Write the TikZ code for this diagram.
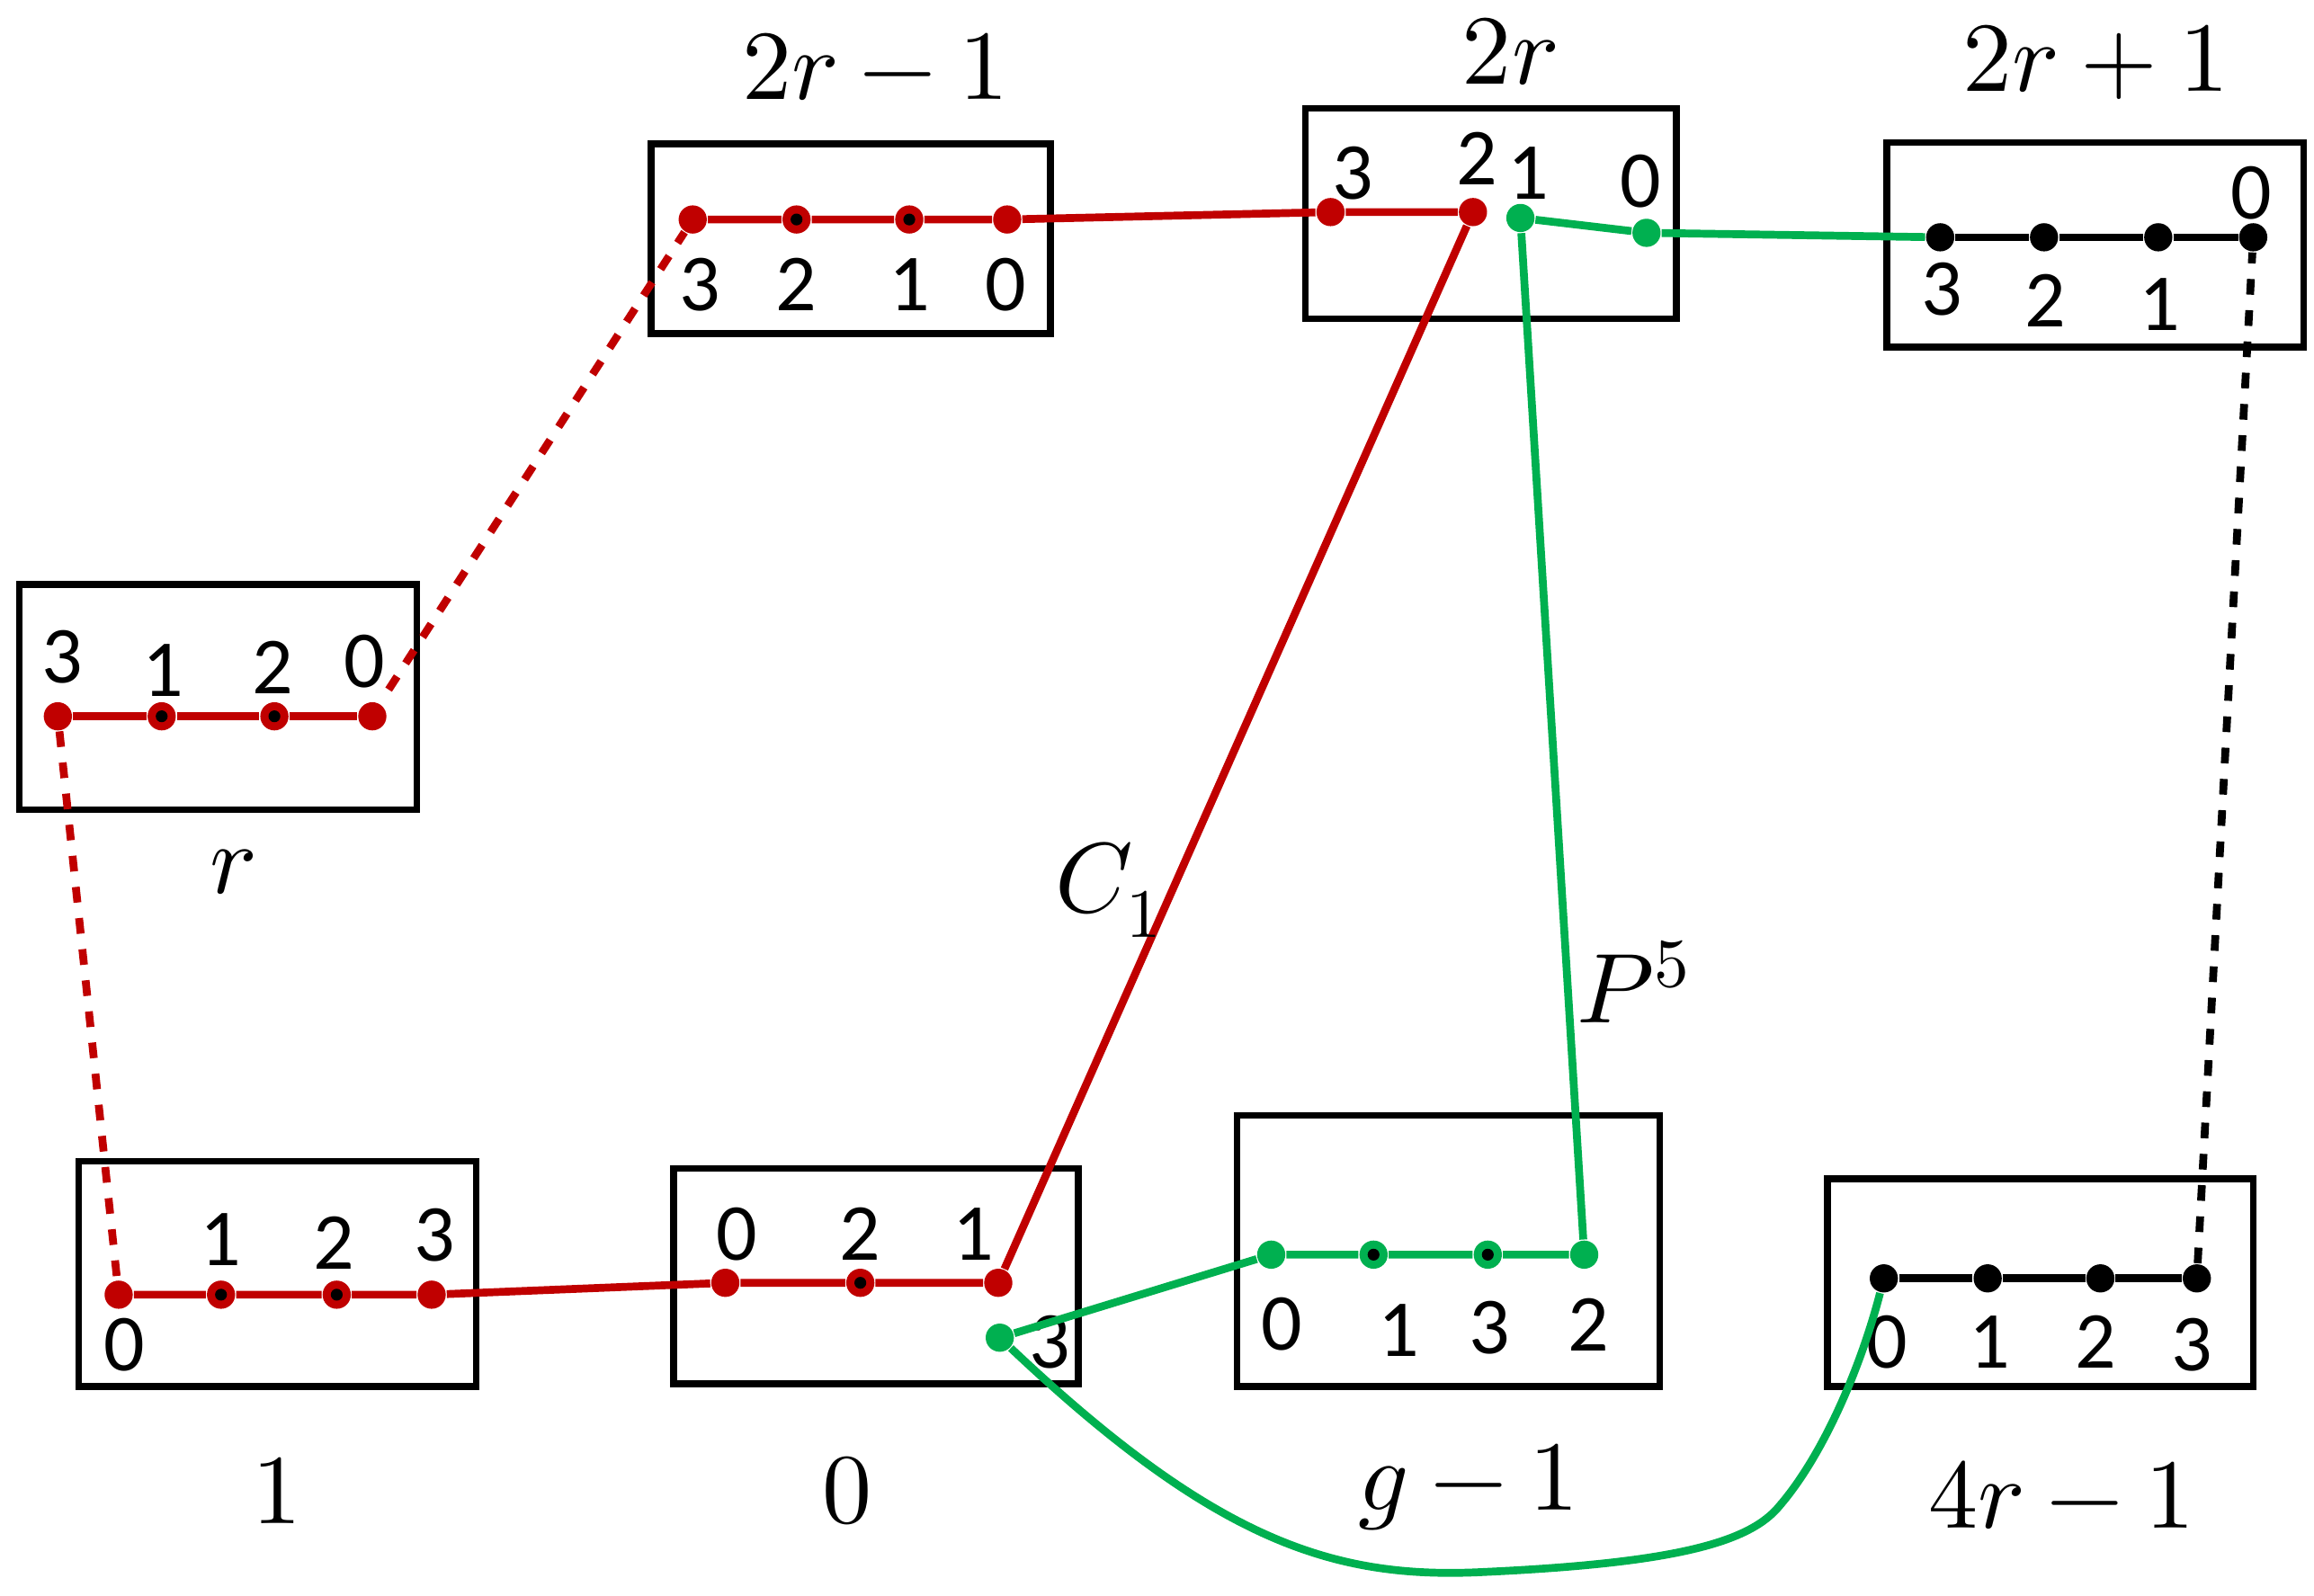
\documentclass[tikz,border=0pt]{standalone}
\usepackage{fontspec}
\setmainfont{Carlito}
\usepackage{unicode-math}
\setmathfont{Latin Modern Math}
\begin{document}
\begin{tikzpicture}[x=0.01cm,y=-0.01cm,
  box/.style={draw,line width=1.3pt},
  dot/.style={circle,inner sep=0pt,minimum size=0.19cm,fill=#1},
  dotc/.style={dot=#1,path picture={\fill[black] (path picture bounding box.center) circle (0.04cm);}},
  lab/.style={font=\fontsize{15.5}{15.5}\selectfont},
  big/.style={font=\fontsize{19}{19}\selectfont},
  rl/.style={line width=1.5pt,draw=myred},
  gl/.style={line width=1.5pt,draw=mygreen},
  bl/.style={line width=1.5pt,draw=black}]
\definecolor{myred}{RGB}{192,0,0}
\definecolor{mygreen}{RGB}{0,176,80}
\useasboundingbox (0,0) rectangle (1560,1076);
% boxes
\draw[box] (439,97) rectangle (708,225);
\draw[box] (880,73) rectangle (1130,215);
\draw[box] (1272,96) rectangle (1553,234);
\draw[box] (13,394) rectangle (281,546);
\draw[box] (53,783) rectangle (321,935);
\draw[box] (454,788) rectangle (727,933);
\draw[box] (834,752) rectangle (1119,935);
\draw[box] (1232,795) rectangle (1519,935);
% box labels
\node[big] (L1) at (590,45) {$2r-1$};
\node[big] (L2) at (1018,35) {$2r$};
\node[big] (L3) at (1413,42) {$2r+1$};
\node[big] (L4) at (157,588) {$r$};
\node[big] (L5) at (187,1005) {$1$};
\node[big] (L6) at (571,1005) {$0$};
\node[big] (L7) at (990,1003) {$g-1$};
\node[big] (L8) at (1390,1008) {$4r-1$};
% dots 2r-1
\node[dot=myred] (a3) at (467,148) {};
\node[dotc=myred] (a2) at (537,148) {};
\node[dotc=myred] (a1) at (613,148) {};
\node[dot=myred] (a0) at (679,148) {};
\node[lab] at (472,192) {3};\node[lab] at (537,192) {2};\node[lab] at (613,192) {1};\node[lab] at (678,192) {0};
% 2r
\node[dot=myred] (b3) at (897,143) {};
\node[dot=myred] (b2) at (993,143) {};
\node[dot=mygreen] (b1) at (1025,147) {};
\node[dot=mygreen] (b0) at (1110,157) {};
\node[lab] at (912,117) {3};\node[lab] at (996,107) {2};\node[lab] at (1030,117) {1};\node[lab] at (1106,122) {0};
% 2r+1
\node[dot=black] (c3) at (1308,160) {};
\node[dot=black] (c2) at (1378,160) {};
\node[dot=black] (c1) at (1455,160) {};
\node[dot=black] (c0) at (1519,160) {};
\node[lab] at (1309,195) {3};\node[lab] at (1379,203) {2};\node[lab] at (1456,205) {1};\node[lab] at (1518,130) {0};
% r
\node[dot=myred] (d3) at (39,483) {};
\node[dotc=myred] (d1) at (109,483) {};
\node[dotc=myred] (d2) at (185,483) {};
\node[dot=myred] (d0) at (251,483) {};
\node[lab] at (42,443) {3};\node[lab] at (110,452) {1};\node[lab] at (184,450) {2};\node[lab] at (246,446) {0};
\coordinate (d0e) at (262,465);
% 1
\node[dot=myred] (e0) at (80,873) {};
\node[dotc=myred] (e1) at (149,873) {};
\node[dotc=myred] (e2) at (227,873) {};
\node[dot=myred] (e3) at (291,873) {};
\node[lab] at (84,907) {0};\node[lab] at (149,836) {1};\node[lab] at (225,838) {2};\node[lab] at (293,833) {3};
% 0
\node[dot=myred] (f0) at (489,865) {};
\node[dotc=myred] (f2) at (580,865) {};
\node[dot=myred] (f1) at (673,865) {};
\node[dot=mygreen] (f3) at (674,902) {};
\node[lab] at (497,832) {0};\node[lab] at (580,832) {2};\node[lab] at (656,832) {1};\node[lab] at (708,905) {3};
% g-1
\node[dot=mygreen] (g0) at (857,846) {};
\node[dotc=mygreen] (g1) at (926,846) {};
\node[dotc=mygreen] (g3) at (1003,846) {};
\node[dot=mygreen] (g2) at (1068,846) {};
\node[lab] at (864,893) {0};\node[lab] at (943,897) {1};\node[lab] at (1004,895) {3};\node[lab] at (1071,893) {2};
% 4r-1
\node[dot=black] (h0) at (1270,862) {};
\node[dot=black] (h1) at (1340,862) {};
\node[dot=black] (h2) at (1416,862) {};
\node[dot=black] (h3) at (1481,862) {};
\node[lab] at (1272,905) {0};\node[lab] at (1341,905) {1};\node[lab] at (1413,905) {2};\node[lab] at (1478,907) {3};
% connectors
\draw[rl] (a3)--(a2)--(a1)--(a0)--(b3)--(b2);
\draw[rl] (d3)--(d1)--(d2)--(d0);
\draw[rl] (e0)--(e1)--(e2)--(e3)--(f0)--(f2)--(f1);
\draw[rl] (f1)--(b2);
\node[big] (C1) at (748,600) {$C_1$};
\draw[rl,dashed] (d0e)--(a3);
\draw[rl,dashed] (d3)--(e0);
\draw[gl] (b1)--(b0)--(c3);
\draw[gl] (b1)--(g2);
\node[big] (P5) at (1102,662) {$P^5$};
\draw[gl] (f3)--(g0)--(g1)--(g3)--(g2);
\draw[gl] (f3) .. controls (820,1040) and (900,1065) .. (1000,1060) .. controls (1130,1054) and (1180,1040) .. (1200,1015) .. controls (1230,980) and (1255,920) .. (h0);
\draw[bl] (c3)--(c2)--(c1)--(c0);
\draw[bl] (h0)--(h1)--(h2)--(h3);
\draw[bl,dashed] (h3)--(c0);
\end{tikzpicture}
\end{document}
